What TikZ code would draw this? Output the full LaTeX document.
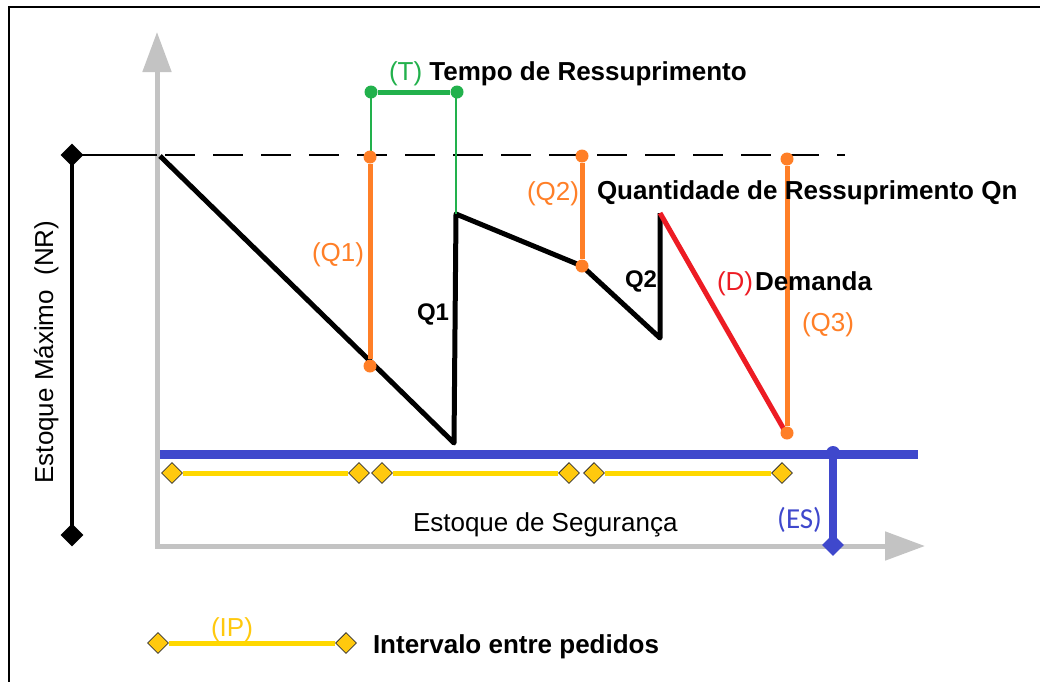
\documentclass[tikz,border=0pt]{standalone}
\usepackage{fontspec}
\setmainfont{Liberation Sans}
\newfontfamily\carlitofont{Carlito}
\usetikzlibrary{shapes.geometric,arrows.meta}
\definecolor{axisgrey}{HTML}{C3C3C3}
\definecolor{qorange}{HTML}{FF7F27}
\definecolor{tgreen}{HTML}{22B14C}
\definecolor{dred}{HTML}{ED1C24}
\definecolor{esblue}{HTML}{3F48CC}
\definecolor{ipyellow}{HTML}{FFD800}
\definecolor{dmfill}{HTML}{FFC90E}
\definecolor{iptext}{HTML}{FFC90E}
\begin{document}
\begin{tikzpicture}[x=1pt,y=-1pt,
  lbl/.style={font=\fontsize{26}{30}\selectfont, inner sep=0pt, outer sep=0pt},
  blbl/.style={font=\fontsize{26}{30}\selectfont\bfseries, inner sep=0pt, outer sep=0pt},
  axisline/.style={draw=axisgrey, line width=5pt, -{Triangle[length=40pt,width=28pt]}},
  saw/.style={line width=5pt, line join=round},
  qline/.style={draw=qorange, line width=5pt},
  odot/.style={circle, fill=qorange, inner sep=0pt, minimum size=13pt},
  gdot/.style={circle, fill=tgreen, inner sep=0pt, minimum size=13pt},
  bdiam/.style={diamond, fill=black, inner sep=0pt, minimum size=23pt},
  ydiam/.style={diamond, fill=dmfill, draw=black!80, line width=0.8pt, inner sep=0pt, minimum size=21pt},
  ipline/.style={draw=ipyellow, line width=5pt},
]
\useasboundingbox (0,0) rectangle (1040,681);
\fill[white] (0,0) rectangle (1040,681);
% frame
\draw[line width=2pt] (9,700) -- (9,7) -- (1060,7);

% axes
\coordinate (origin) at (157,548);
\coordinate (ytip) at (157,32);
\coordinate (xorig) at (155,546);
\coordinate (xtip) at (925,546);
\draw[axisline] (origin) -- (ytip);
\draw[axisline] (xorig) -- (xtip);

% maximum stock level
\node[bdiam] (nrtop) at (72,155) {};
\node[bdiam] (nrbot) at (72,535) {};
\coordinate (nraxis) at (157,155);
\coordinate (nrend) at (845,155);
\draw[line width=4pt] (nrtop.center) -- (nrbot.center);
\draw[line width=1.5pt] (nrtop.center) -- (nraxis);
\draw[line width=1.5pt, dash pattern=on 30pt off 18pt, dash phase=-8pt] (nraxis) -- (nrend);
\node[lbl, rotate=90, anchor=base] (nrlabel) at (53,352) {Estoque Máximo\ \ (NR)};

% sawtooth
\coordinate (s0) at (160,156);
\coordinate (s1) at (454,443);
\coordinate (s2) at (456,214);
\coordinate (s3) at (582,266);
\coordinate (s4) at (660,338);
\coordinate (s5) at (660,213);
\coordinate (s6) at (786,433);
\draw[saw] (s0) -- (s1) -- (s2) -- (s3) -- (s4) -- (s5);
\draw[saw, draw=dred] (s5) -- (s6);

% lead time
\node[gdot] (t1) at (371,92) {};
\node[gdot] (t2) at (457,92) {};
\draw[tgreen, line width=5pt] (t1) -- (t2);
\coordinate (t1b) at (371,155);
\coordinate (t2t) at (456,92);
\draw[tgreen, line width=1.2pt] (t1.center) -- (t1b);
\draw[tgreen, line width=1.2pt] (t2t) -- (s2);
\node[lbl, anchor=base west] (tlabel) at (389,80) {\textcolor{tgreen}{(T)} \textbf{Tempo de Ressuprimento}};

% order quantities
\node[odot] (q1a) at (370,157) {};
\node[odot] (q1b) at (370,366) {};
\draw[qline] (q1a) -- (q1b);
\node[odot] (q2a) at (582,156) {};
\node[odot] (q2b) at (582,266) {};
\draw[qline] (q2a) -- (q2b);
\node[odot] (q3a) at (787,159) {};
\node[odot] (q3b) at (787,433) {};
\draw[qline] (q3a) -- (q3b);

\node[lbl, anchor=base east, text=qorange] (q1lbl) at (364,261) {(Q1)};
\node[blbl, anchor=base west, font=\fontsize{24}{28}\selectfont\bfseries] (q1txt) at (417,320) {Q1};
\node[lbl, anchor=base west, text=qorange] (q2lbl) at (527,200) {(Q2)};
\node[blbl, anchor=base west] (qnlbl) at (597,199) {Quantidade de Ressuprimento Qn};
\node[blbl, anchor=base west, font=\fontsize{24}{28}\selectfont\bfseries] (q2txt) at (625,287) {Q2};
\node[lbl, anchor=base west, text=dred] (dlbl) at (717,290) {(D)};
\node[blbl, anchor=base west] (dtxt) at (755,290) {Demanda};
\node[lbl, anchor=base west, text=qorange] (q3lbl) at (802,331) {(Q3)};

% safety stock
\coordinate (esl) at (160,454);
\coordinate (esr) at (918,454);
\draw[esblue, line width=9pt] (esl) -- (esr);
\node[circle, fill=esblue, inner sep=0pt, minimum size=14pt] (est) at (833,453) {};
\node[diamond, fill=esblue, inner sep=0pt, minimum size=22pt] (esb) at (833,545) {};
\draw[esblue, line width=8pt] (est.center) -- (esb.center);
\node[inner sep=0pt, anchor=base west, text=esblue, font=\carlitofont\fontsize{29}{32}\selectfont] (eslbl) at (777,528) {(ES)};
\node[lbl, anchor=base west] (estxt) at (413,531) {Estoque de Segurança};

% order intervals
\node[ydiam] (i1a) at (172,473) {};
\node[ydiam] (i1b) at (359,473) {};
\node[ydiam] (i2a) at (382,473) {};
\node[ydiam] (i2b) at (569,473) {};
\node[ydiam] (i3a) at (594,473) {};
\node[ydiam] (i3b) at (782,473) {};
\draw[ipline] (i1a) -- (i1b);
\draw[ipline] (i2a) -- (i2b);
\draw[ipline] (i3a) -- (i3b);

% legend
\node[ydiam] (la) at (158,643) {};
\node[ydiam] (lb) at (346,643) {};
\draw[ipline] (la) -- (lb);
\node[lbl, anchor=base, text=iptext] (iplbl) at (232,636) {(IP)};
\node[blbl, anchor=base west] (iptxt) at (373,653) {Intervalo entre pedidos};
\end{tikzpicture}
\end{document}
